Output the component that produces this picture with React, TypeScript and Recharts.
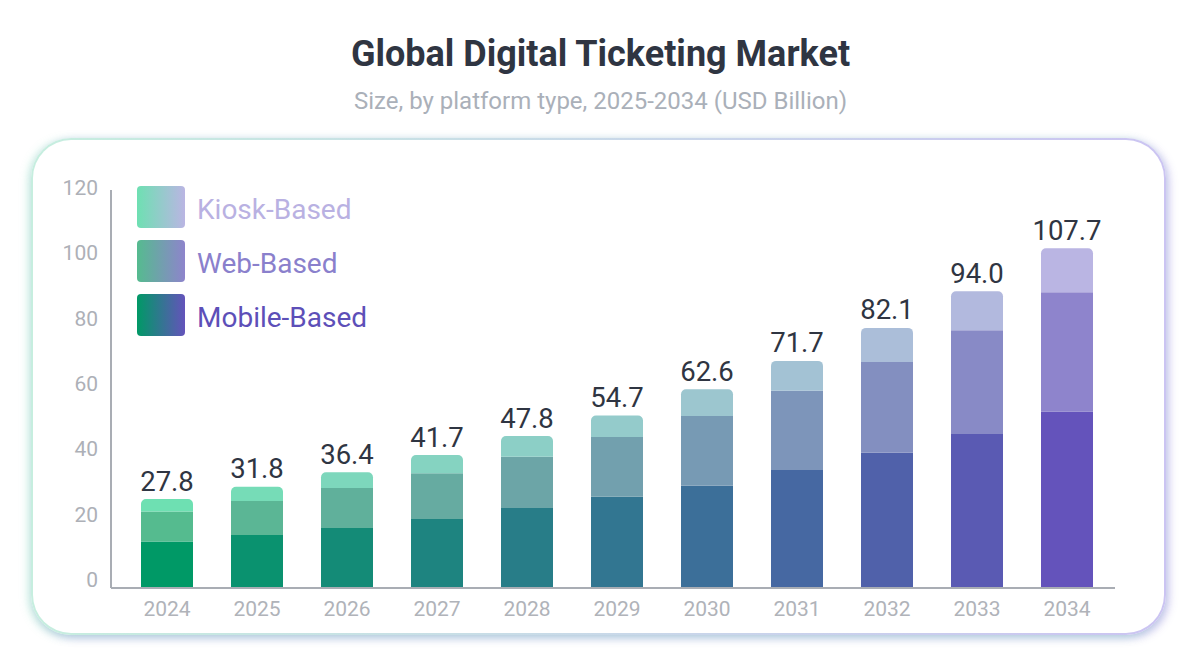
import React from 'react';
import { BarChart, Bar, XAxis, YAxis, Cell } from 'recharts';

const years = ['2024', '2025', '2026', '2027', '2028', '2029', '2030', '2031', '2032', '2033', '2034'];
const mobileBased = [14.2, 16.2, 18.4, 21.1, 24.5, 27.9, 31.3, 36.1, 41.4, 47.1, 54.0];
const webBased = [9.2, 10.4, 12.2, 14.0, 15.7, 18.3, 21.3, 24.3, 27.8, 31.8, 36.5];
const kioskBased = [3.8, 4.4, 4.8, 5.6, 6.3, 6.6, 8.2, 9.1, 10.4, 11.9, 13.5];
const totalLabels = ['27.8', '31.8', '36.4', '41.7', '47.8', '54.7', '62.6', '71.7', '82.1', '94.0', '107.7'];
const yTicks = [0, 20, 40, 60, 80, 100, 120];

const FONT = 'Roboto, "Noto Sans", sans-serif';

// start / end colour of each series, blended across the years
const SERIES = [
  { key: 'mobile', name: 'Mobile-Based', from: [0, 153, 102], to: [100, 83, 187], text: '#5d4fb8' },
  { key: 'web', name: 'Web-Based', from: [85, 187, 143], to: [142, 132, 204], text: '#8a80cc' },
  { key: 'kiosk', name: 'Kiosk-Based', from: [110, 224, 178], to: [186, 181, 227], text: '#b9b1e2' },
];

const mix = (a: number[], b: number[], t: number) =>
  `rgb(${a.map((v, i) => Math.round(v + (b[i] - v) * t)).join(',')})`;

const data = years.map((year, i) => ({
  year,
  mobile: mobileBased[i],
  web: webBased[i],
  kiosk: kioskBased[i],
}));

const YTick = ({ y, payload }: any) => (
  <text x={98} y={y - 8} textAnchor="end" dominantBaseline="central" fontSize={21} fill="#adb0b7" fontFamily={FONT}>
    {payload.value}
  </text>
);

const XTick = ({ x, y, payload }: any) => (
  <text x={x} y={y + 19} textAnchor="middle" dominantBaseline="central" fontSize={21} fill="#b0b3b9" fontFamily={FONT}>
    {payload.value}
  </text>
);

const TotalLabel = ({ x, y, width, index }: any) => (
  <text x={x + width / 2} y={y - 18} textAnchor="middle" dominantBaseline="central" fontSize={27.5} fill="#2f3542" fontFamily={FONT}>
    {totalLabels[index]}
  </text>
);

const LegendBox = () => (
  <div style={{ position: 'absolute', left: 137, top: 180, fontFamily: FONT }}>
    {[...SERIES].reverse().map((s) => (
      <div key={s.key} style={{ display: 'flex', alignItems: 'center', height: 54 }}>
        <div
          style={{
            width: 48,
            height: 42,
            borderRadius: 4,
            background: `linear-gradient(90deg, ${mix(s.from, s.from, 0)}, ${mix(s.to, s.to, 0)})`,
          }}
        />
        <span style={{ marginLeft: 12, fontSize: 28, color: s.text, position: 'relative', top: 2 }}>{s.name}</span>
      </div>
    ))}
  </div>
);

export default function App() {
  return (
    <div style={{ position: 'relative', width: 1201, height: 671, background: '#fff', fontFamily: FONT }}>
      <style>{'body{margin:0}'}</style>
      <div style={{ position: 'absolute', top: 33, width: '100%', textAlign: 'center', fontSize: 36, fontWeight: 700, color: '#2f3542' }}>
        Global Digital Ticketing Market
      </div>
      <div style={{ position: 'absolute', top: 87, width: '100%', textAlign: 'center', fontSize: 24, color: '#aab0b9' }}>
        Size, by platform type, 2025-2034 (USD Billion)
      </div>
      <div
        style={{
          position: 'absolute',
          left: 31,
          top: 138,
          width: 1135,
          height: 497,
          boxSizing: 'border-box',
          borderRadius: 40,
          border: '2px solid transparent',
          background: 'linear-gradient(#fff,#fff) padding-box, linear-gradient(90deg,#c6eedf,#cbc4f2) border-box',
          boxShadow: '-3px 2px 8px rgba(110,214,176,0.35), 3px 3px 8px rgba(140,125,220,0.45)',
        }}
      />
      <div style={{ position: 'absolute', left: 0, top: 0 }}>
        <BarChart width={1201} height={671} data={data} barSize={52} margin={{ top: 190, right: 86, bottom: 53, left: 0 }}>
          <XAxis
            dataKey="year"
            tick={<XTick />}
            tickLine={false}
            tickSize={0}
            height={30}
            padding={{ left: 11, right: 3 }}
            axisLine={{ stroke: '#a9adb4', strokeWidth: 2 }}
          />
          <YAxis
            width={111}
            domain={[0, 121.8]}
            ticks={yTicks}
            tick={<YTick />}
            tickLine={false}
            axisLine={{ stroke: '#a9adb4', strokeWidth: 2 }}
          />
          {SERIES.map((s, si) => (
            <Bar
              key={s.key}
              dataKey={s.key}
              name={s.name}
              stackId="a"
              isAnimationActive={false}
              radius={si === SERIES.length - 1 ? [5, 5, 0, 0] : 0}
              label={si === SERIES.length - 1 ? <TotalLabel /> : undefined}
            >
              {data.map((d, i) => (
                <Cell key={d.year} fill={mix(s.from, s.to, i / (years.length - 1))} />
              ))}
            </Bar>
          ))}
        </BarChart>
      </div>
      <LegendBox />
    </div>
  );
}
